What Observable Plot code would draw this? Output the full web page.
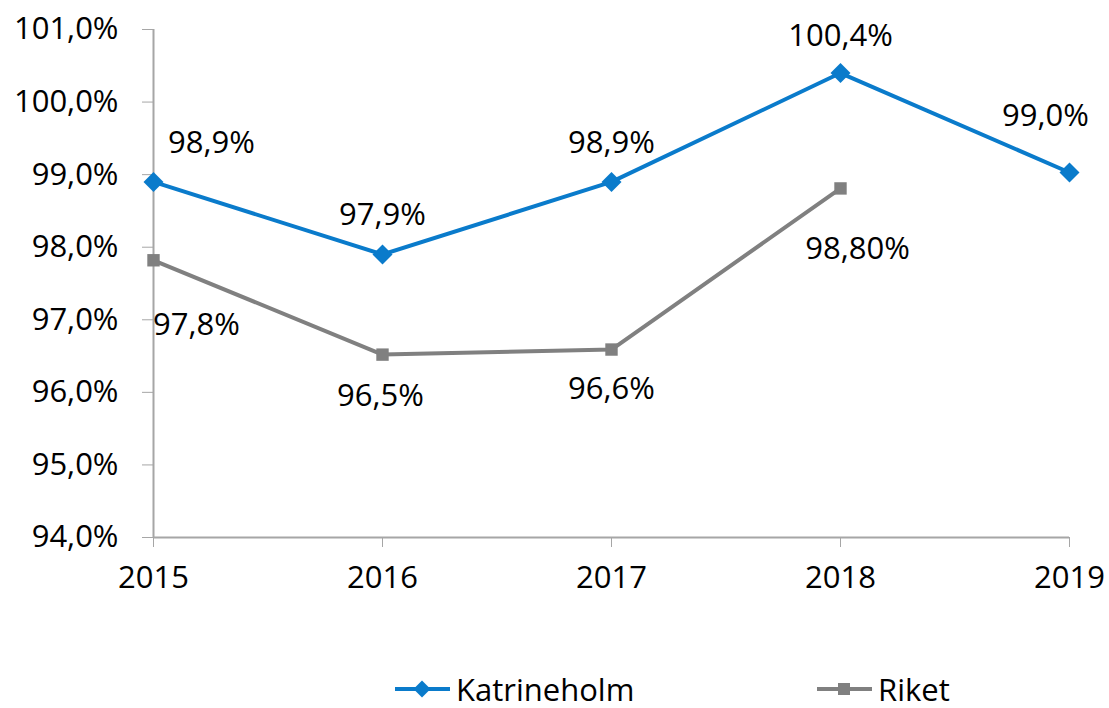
<!DOCTYPE html>
<html><head><meta charset="utf-8">
<script src="https://cdn.jsdelivr.net/npm/d3@7"></script>
<script src="https://cdn.jsdelivr.net/npm/@observablehq/plot@0.6"></script>
<style>
body{margin:0;background:#fff;font-family:"Open Sans",sans-serif;}
#legend{position:relative;height:88px;width:1109px;font-size:31px;color:#000;}
.item{position:absolute;top:54px;display:flex;align-items:center;height:30px;line-height:30px;}
</style></head>
<body><div id="chart"></div><div id="legend"></div>
<script>
const years = [2015, 2016, 2017, 2018, 2019];
const katrineholm = [98.9, 97.9, 98.9, 100.4, 99.03];
const katrineholmLabels = ["98,9%", "97,9%", "98,9%", "100,4%", "99,0%"];
const riketYears = [2015, 2016, 2017, 2018];
const riket = [97.82, 96.52, 96.59, 98.81];
const riketLabels = ["97,8%", "96,5%", "96,6%", "98,80%"];
const yTicks = [94, 95, 96, 97, 98, 99, 100, 101];

const blue = "#0a7bcb", grey = "#808080", axisGrey = "#a6a6a6";
const FS = 31;
const kData = years.map((y, i) => ({year: y, value: katrineholm[i], label: katrineholmLabels[i]}));
const rData = riketYears.map((y, i) => ({year: y, value: riket[i], label: riketLabels[i]}));

// label offsets (placement style)
const kOffsets = [[58, -39], [0, -39], [0, -39], [0, -37], [-24, -56]];
const rOffsets = [[43, 65], [-2, 41], [0, 40], [17, 61]];

const labelMarks = [
  ...kData.map((d, i) => Plot.text([d], {x: "year", y: "value", text: "label", dx: kOffsets[i][0], dy: kOffsets[i][1], fontSize: FS, fill: "#000"})),
  ...rData.map((d, i) => Plot.text([d], {x: "year", y: "value", text: "label", dx: rOffsets[i][0], dy: rOffsets[i][1], fontSize: FS, fill: "#000"}))
];

const chart = Plot.plot({
  width: 1109, height: 620,
  marginLeft: 153, marginRight: 40, marginTop: 29, marginBottom: 83,
  style: {fontFamily: "'Open Sans', sans-serif", color: "#000", background: "#fff"},
  x: {domain: [2015, 2019]},
  y: {domain: [94, 101]},
  marks: [
    Plot.axisY({ticks: yTicks, tickSize: 11, tickPadding: 24, stroke: axisGrey, fill: "#000", fontSize: FS,
      tickFormat: d => d.toFixed(1).replace(".", ",") + "%", label: null}),
    Plot.axisX({ticks: years, tickSize: 10, tickPadding: 18, stroke: axisGrey, fill: "#000", fontSize: FS,
      tickFormat: d => String(d), label: null}),
    Plot.ruleX([2015], {stroke: axisGrey, strokeWidth: 2}),
    Plot.ruleY([94], {stroke: axisGrey, strokeWidth: 2}),
    Plot.line(rData, {x: "year", y: "value", stroke: grey, strokeWidth: 4}),
    Plot.dot(rData, {x: "year", y: "value", symbol: "square", r: 7, fill: grey}),
    Plot.line(kData, {x: "year", y: "value", stroke: blue, strokeWidth: 4}),
    Plot.dot(kData, {x: "year", y: "value", symbol: "diamond2", r: 9, fill: blue}),
    ...labelMarks
  ]
});
document.getElementById("chart").append(chart);

const legendItems = [
  {name: "Katrineholm", color: blue, symbol: "diamond", left: 395},
  {name: "Riket", color: grey, symbol: "square", left: 817}
];
const leg = document.getElementById("legend");
legendItems.forEach(it => {
  const div = document.createElement("div");
  div.className = "item";
  div.style.left = it.left + "px";
  const marker = it.symbol === "diamond"
    ? `<rect x="21" y="5" width="12" height="12" fill="${it.color}" transform="rotate(45 27 11)"/>`
    : `<rect x="21" y="5" width="12" height="12" fill="${it.color}"/>`;
  div.innerHTML = `<svg width="55" height="22" style="margin-right:6px"><line x1="0" x2="55" y1="11" y2="11" stroke="${it.color}" stroke-width="4"/>${marker}</svg><span>${it.name}</span>`;
  leg.append(div);
});
</script></body></html>
